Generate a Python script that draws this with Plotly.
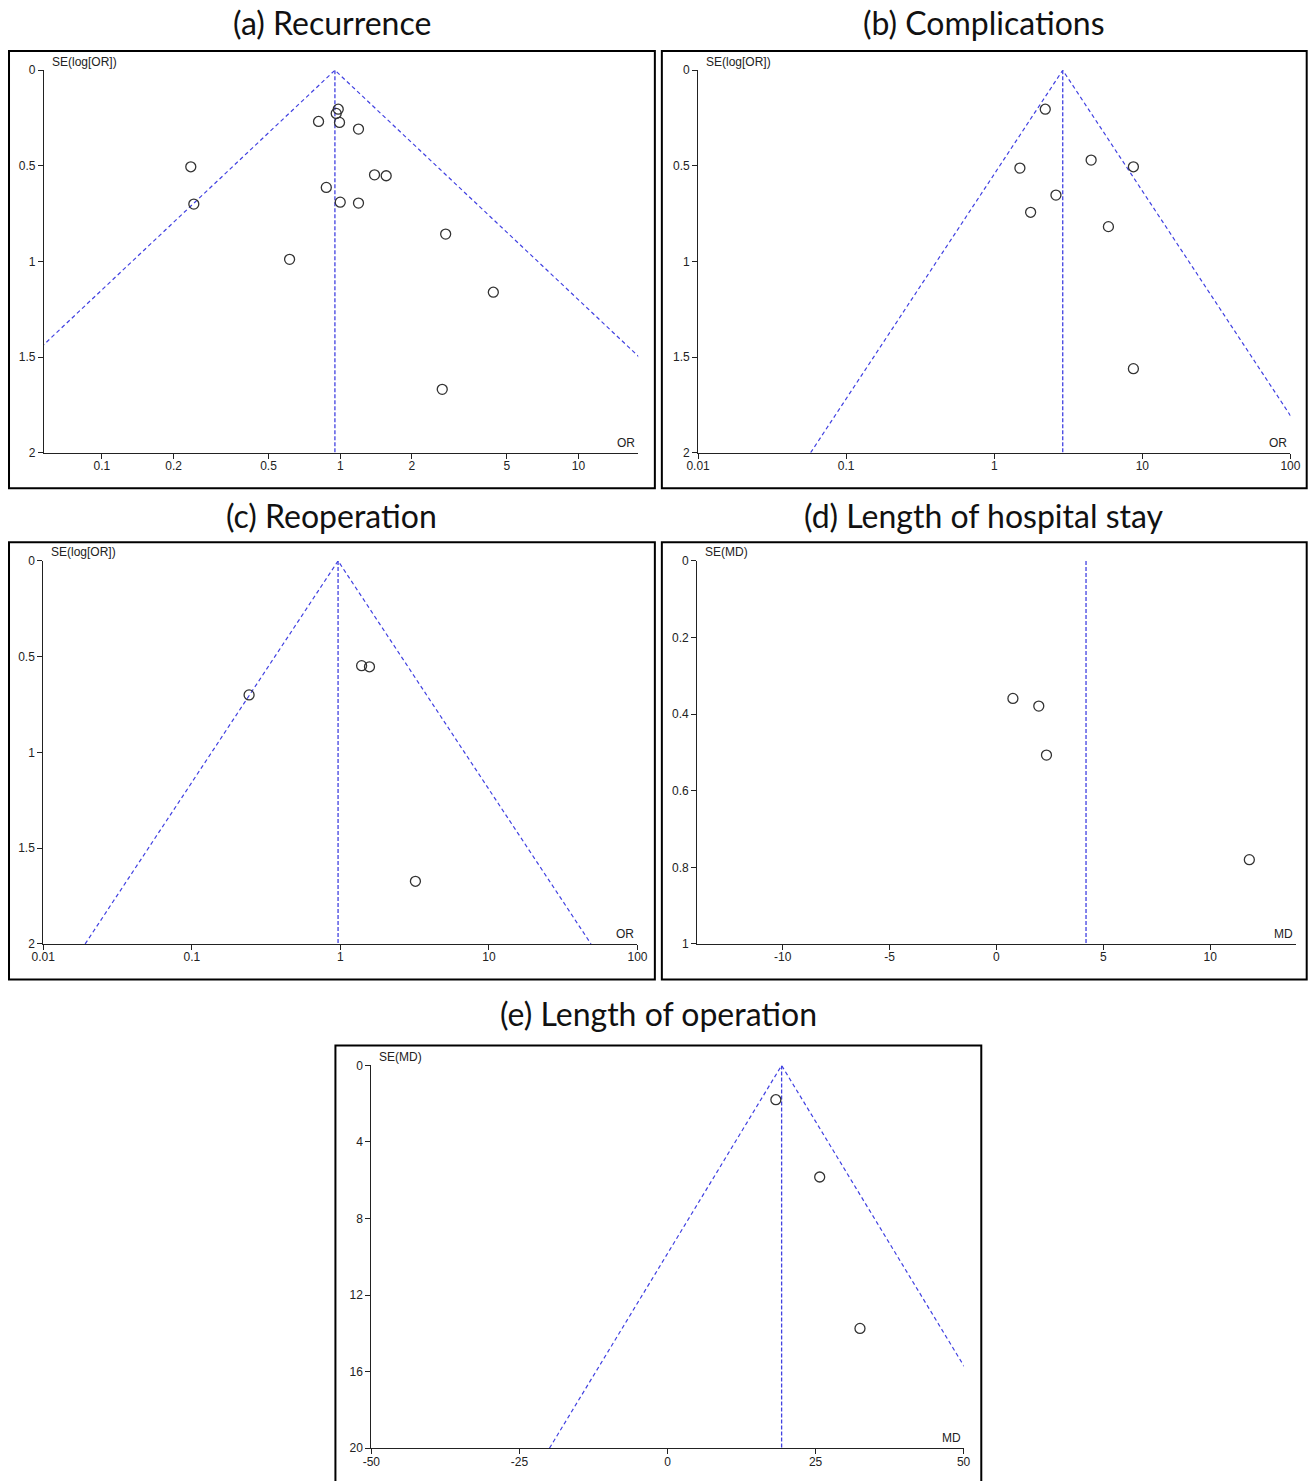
import math
import plotly.graph_objects as go

W, H = 1314, 1481

# ---------------- data ----------------
# (a) Recurrence  (OR, SE(log[OR]))
rec_or = [0.236, 0.243, 0.811, 0.874, 0.613, 0.981, 0.962, 0.993, 1.193,
          1.393, 1.559, 1.000, 1.193, 2.77, 4.39, 2.68]
rec_se = [0.505, 0.700, 0.268, 0.613, 0.989, 0.204, 0.226, 0.273, 0.308,
          0.547, 0.552, 0.690, 0.695, 0.857, 1.161, 1.669]
rec_pooled = 0.95

# (b) Complications
comp_or = [2.21, 1.49, 4.51, 8.70, 2.61, 1.76, 5.90, 8.70]
comp_se = [0.204, 0.512, 0.470, 0.505, 0.653, 0.743, 0.818, 1.561]
comp_pooled = 2.90

# (c) Reoperation
reop_or = [0.243, 1.39, 1.57, 3.20]
reop_se = [0.700, 0.547, 0.553, 1.673]
reop_pooled = 0.965

# (d) Length of hospital stay (MD, SE(MD))
los_md = [0.77, 1.98, 2.34, 11.83]
los_se = [0.359, 0.379, 0.507, 0.780]
los_pooled = 4.19

# (e) Length of operation
op_md = [18.3, 25.7, 32.5]
op_se = [1.79, 5.83, 13.74]
op_pooled = 19.27

titles = ["(a) Recurrence", "(b) Complications", "(c) Reoperation",
          "(d) Length of hospital stay", "(e) Length of operation"]

or_ticks_a = [0.1, 0.2, 0.5, 1, 2, 5, 10]
or_ticks_wide = [0.01, 0.1, 1, 10, 100]
se_ticks_or = [0, 0.5, 1, 1.5, 2]
se_ticks_los = [0, 0.2, 0.4, 0.6, 0.8, 1]
md_ticks_los = [-10, -5, 0, 5, 10]
se_ticks_op = [0, 4, 8, 12, 16, 20]
md_ticks_op = [-50, -25, 0, 25, 50]

# ---------------- styling / layout ----------------
Z = 1.96
FUNNEL_COLOR = "rgb(65,65,225)"
PT_COLOR = "#333333"
SANS = "Liberation Sans, Arial, sans-serif"
TICK_FONT = dict(family=SANS, size=12, color="#222222")

# mapping from target-picture pixels to page pixels (photo is slightly inset)
SX, OX = 0.985, 11.0
SY, OY = 0.992, 6.0


def pxx(v):
    return (v - OX) / SX


def pxy(v):
    return (v - OY) / SY


def fx(v):
    return pxx(v) / W


def fy(v):
    return 1 - pxy(v) / H


def fmt(v):
    return "%g" % v


panels = [
    dict(x=rec_or, se=rec_se, pooled=rec_pooled, log=True,
         xr=[math.log10(0.0571), math.log10(17.8)], yr=[2, 0],
         xt=or_ticks_a, yt=se_ticks_or, funnel=True, semax=2,
         box=(43, 638.3, 69.3, 452.3), frame=(8, 655, 50, 488),
         ylab="SE(log[OR])", xlab="OR", title_y=22),
    dict(x=comp_or, se=comp_se, pooled=comp_pooled, log=True,
         xr=[-2, 2], yr=[2, 0],
         xt=or_ticks_wide, yt=se_ticks_or, funnel=True, semax=2,
         box=(698.3, 1291.7, 69.3, 452.3), frame=(662, 1308, 50, 488),
         ylab="SE(log[OR])", xlab="OR", title_y=22),
    dict(x=reop_or, se=reop_se, pooled=reop_pooled, log=True,
         xr=[-2, 2], yr=[2, 0],
         xt=or_ticks_wide, yt=se_ticks_or, funnel=True, semax=2,
         box=(42.3, 637.6, 560.7, 944.3), frame=(8, 655, 542, 980),
         ylab="SE(log[OR])", xlab="OR", title_y=515),
    dict(x=los_md, se=los_se, pooled=los_pooled, log=False,
         xr=[-14, 14], yr=[1, 0],
         xt=md_ticks_los, yt=se_ticks_los, funnel=False, semax=1,
         box=(697.4, 1297, 560.7, 944.3), frame=(662, 1308, 542, 980),
         ylab="SE(MD)", xlab="MD", title_y=515),
    dict(x=op_md, se=op_se, pooled=op_pooled, log=False,
         xr=[-50, 50], yr=[20, 0],
         xt=md_ticks_op, yt=se_ticks_op, funnel=True, semax=20,
         box=(371, 964.3, 1066, 1449.3), frame=(335, 982, 1046, 1490),
         ylab="SE(MD)", xlab="MD", title_y=1014),
]

fig = go.Figure()
layout = dict(width=W, height=H, margin=dict(l=0, r=0, t=0, b=0),
              paper_bgcolor="white", plot_bgcolor="white", showlegend=False)
annotations = []
shapes = []

for i, p in enumerate(panels):
    n = i + 1
    xa = "x" if n == 1 else "x%d" % n
    ya = "y" if n == 1 else "y%d" % n
    xkey = "xaxis" if n == 1 else "xaxis%d" % n
    ykey = "yaxis" if n == 1 else "yaxis%d" % n
    x0, x1, y0, y1 = p["box"]

    layout[xkey] = dict(
        domain=[fx(x0), fx(x1)], anchor=ya,
        type="log" if p["log"] else "linear",
        range=p["xr"], tickmode="array", tickvals=p["xt"],
        ticktext=[fmt(v) for v in p["xt"]], ticks="outside", ticklen=5,
        ticklabelstandoff=-3,
        tickwidth=1, tickcolor="#222", showline=True, linecolor="#222",
        linewidth=1, showgrid=False, zeroline=False, tickfont=TICK_FONT,
        fixedrange=True)
    layout[ykey] = dict(
        domain=[fy(y1), fy(y0)], anchor=xa, range=p["yr"], tickmode="array",
        tickvals=p["yt"], ticktext=[fmt(v) for v in p["yt"]],
        ticks="outside", ticklen=5, tickwidth=1, tickcolor="#222",
        showline=True, linecolor="#222", linewidth=1, showgrid=False,
        zeroline=False, tickfont=TICK_FONT, fixedrange=True)

    pooled = p["pooled"]
    semax = p["semax"]
    # pseudo 95% confidence limits (funnel)
    if p["funnel"]:
        if p["log"]:
            lo = pooled * math.exp(-Z * semax)
            hi = pooled * math.exp(Z * semax)
        else:
            lo = pooled - Z * semax
            hi = pooled + Z * semax
        fig.add_trace(go.Scatter(
            x=[lo, pooled, hi], y=[semax, 0, semax], xaxis=xa, yaxis=ya,
            mode="lines", hoverinfo="skip",
            line=dict(color=FUNNEL_COLOR, width=1.2, dash="4px,3px")))
    # pooled estimate
    fig.add_trace(go.Scatter(
        x=[pooled, pooled], y=[0, semax], xaxis=xa, yaxis=ya, mode="lines",
        hoverinfo="skip",
        line=dict(color=FUNNEL_COLOR, width=1.3, dash="4px,2px")))
    # studies
    fig.add_trace(go.Scatter(
        x=p["x"], y=p["se"], xaxis=xa, yaxis=ya, mode="markers",
        hoverinfo="skip",
        marker=dict(symbol="circle-open", size=10, color=PT_COLOR,
                    line=dict(width=1.3, color=PT_COLOR))))

    # axis captions
    annotations.append(dict(
        text=p["ylab"], xref="paper", yref="paper", x=fx(x0 + 6),
        y=fy(y0 - 8.5), xanchor="left", yanchor="middle",
        showarrow=False, font=dict(family=SANS, size=12, color="#222")))
    annotations.append(dict(
        text=p["xlab"], xref="paper", yref="paper", x=fx(x1 - 1),
        y=fy(y1 - 10), xanchor="right", yanchor="middle",
        showarrow=False, font=dict(family=SANS, size=12, color="#222")))
    # panel title
    fx0, fx1, fy0, fy1 = p["frame"]
    annotations.append(dict(
        text=titles[i], xref="paper", yref="paper", x=fx((fx0 + fx1) / 2),
        y=fy(p["title_y"]), xanchor="center", yanchor="middle",
        showarrow=False, font=dict(family="Lato, Carlito, sans-serif",
                                   size=32, color="#111")))
    # panel frame
    shapes.append(dict(type="rect", xref="paper", yref="paper",
                       x0=fx(fx0), x1=fx(fx1), y0=fy(fy1), y1=fy(fy0),
                       line=dict(color="black", width=2)))

layout["annotations"] = annotations
layout["shapes"] = shapes
fig.update_layout(**layout)
fig.write_html(
    "out.html",
    config={"displayModeBar": False, "staticPlot": True},
    post_script=("document.body.style.margin='0';"
                 "document.body.style.padding='0';"
                 "document.documentElement.style.overflow='hidden';"
                 "document.body.style.overflow='hidden';"))
